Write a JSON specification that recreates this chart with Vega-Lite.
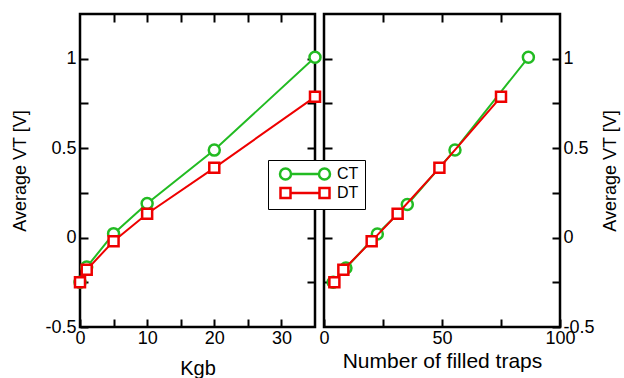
{
  "$schema": "https://vega.github.io/schema/vega-lite/v6.json",
  "autosize": {"type": "pad"},
  "padding": {"left": 10, "top": 11, "right": 2, "bottom": 0},
  "background": "white",
  "config": {
    "font": "Liberation Sans",
    "view": {"stroke": "black", "strokeWidth": 2.5},
    "axis": {
      "domain": false, "grid": false, "labelFlush": false,
      "tickColor": "black", "tickWidth": 2, "tickSize": -8,
      "labelFontSize": 18, "labelColor": "black", "labelPadding": 12,
      "titleFontSize": 20, "titleFontWeight": "normal", "titleColor": "black"
    }
  },
  "datasets": {
    "kgb": [
      {"x": 0, "vt": -0.25, "series": "CT"},
      {"x": 1, "vt": -0.165, "series": "CT"},
      {"x": 5, "vt": 0.022, "series": "CT"},
      {"x": 10, "vt": 0.19, "series": "CT"},
      {"x": 20, "vt": 0.489, "series": "CT"},
      {"x": 35, "vt": 1.008, "series": "CT"},
      {"x": 0, "vt": -0.25, "series": "DT"},
      {"x": 1, "vt": -0.18, "series": "DT"},
      {"x": 5, "vt": -0.02, "series": "DT"},
      {"x": 10, "vt": 0.133, "series": "DT"},
      {"x": 20, "vt": 0.39, "series": "DT"},
      {"x": 35, "vt": 0.787, "series": "DT"}
    ],
    "traps": [
      {"x": 3.9, "vt": -0.25, "series": "CT"},
      {"x": 9.3, "vt": -0.17, "series": "CT"},
      {"x": 22.6, "vt": 0.02, "series": "CT"},
      {"x": 35.3, "vt": 0.185, "series": "CT"},
      {"x": 55.5, "vt": 0.49, "series": "CT"},
      {"x": 86.6, "vt": 1.008, "series": "CT"},
      {"x": 4.4, "vt": -0.25, "series": "DT"},
      {"x": 8.2, "vt": -0.18, "series": "DT"},
      {"x": 20.2, "vt": -0.02, "series": "DT"},
      {"x": 31.2, "vt": 0.133, "series": "DT"},
      {"x": 48.9, "vt": 0.39, "series": "DT"},
      {"x": 75, "vt": 0.787, "series": "DT"}
    ]
  },
  "hconcat": [
    {
      "width": 235, "height": 313,
      "data": {"name": "kgb"},
      "layer": [
        {
          "transform": [{"filter": "datum.series == 'CT'"}],
          "mark": {"type": "line", "color": "#22bb22", "strokeWidth": 2},
          "encoding": {
            "x": {"field": "x", "type": "quantitative", "scale": {"domain": [0, 35], "nice": false, "zero": false},
              "axis": {"orient": "bottom", "values": [0, 5, 10, 15, 20, 25, 30], "labelPadding": 10, "labelExpr": "datum.value % 10 == 0 ? datum.label : ''", "title": "Kgb", "titlePadding": 11}},
            "y": {"field": "vt", "type": "quantitative", "scale": {"domain": [-0.5, 1.25], "nice": false, "zero": false},
              "axis": {"orient": "left", "values": [-0.5, -0.25, 0, 0.25, 0.5, 0.75, 1], "labelExpr": "datum.value % 0.5 == 0 ? (datum.value < 0 ? '-' : '') + format(abs(datum.value), '~g') : ''", "title": "Average VT [V]", "titleFontSize": 18, "titlePadding": 15}}
          }
        },
        {
          "transform": [{"filter": "datum.series == 'CT'"}],
          "mark": {"type": "point", "shape": "circle", "filled": true, "fill": "white", "stroke": "#22bb22", "strokeWidth": 2.5, "size": 121, "opacity": 1},
          "encoding": {
            "x": {"field": "x", "type": "quantitative", "scale": {"domain": [0, 35], "nice": false, "zero": false},
              "axis": {"orient": "top", "values": [5, 10, 15, 20, 25, 30], "labels": false, "title": null}},
            "y": {"field": "vt", "type": "quantitative", "scale": {"domain": [-0.5, 1.25], "nice": false, "zero": false},
              "axis": {"orient": "right", "values": [-0.25, 0, 0.25, 0.5, 0.75, 1], "labels": false, "title": null}}
          }
        },
        {
          "transform": [{"filter": "datum.series == 'DT'"}],
          "mark": {"type": "line", "color": "#ee0000", "strokeWidth": 2},
          "encoding": {
            "x": {"field": "x", "type": "quantitative", "scale": {"domain": [0, 35], "nice": false, "zero": false}, "axis": null},
            "y": {"field": "vt", "type": "quantitative", "scale": {"domain": [-0.5, 1.25], "nice": false, "zero": false}, "axis": null}
          }
        },
        {
          "transform": [{"filter": "datum.series == 'DT'"}],
          "mark": {"type": "point", "shape": "square", "filled": true, "fill": "white", "stroke": "#ee0000", "strokeWidth": 2.5, "size": 100, "opacity": 1},
          "encoding": {
            "x": {"field": "x", "type": "quantitative", "scale": {"domain": [0, 35], "nice": false, "zero": false}, "axis": null},
            "y": {"field": "vt", "type": "quantitative", "scale": {"domain": [-0.5, 1.25], "nice": false, "zero": false}, "axis": null}
          }
        }
      ],
      "resolve": {"axis": {"x": "independent", "y": "independent"}}
    },
    {
      "width": 236, "height": 313,
      "data": {"name": "traps"},
      "layer": [
        {
          "transform": [{"filter": "datum.series == 'CT'"}],
          "mark": {"type": "line", "color": "#22bb22", "strokeWidth": 2},
          "encoding": {
            "x": {"field": "x", "type": "quantitative", "scale": {"domain": [0, 100], "nice": false, "zero": false},
              "axis": {"orient": "bottom", "values": [0, 25, 50, 75, 100], "labelPadding": 10, "labelExpr": "datum.value % 50 == 0 ? datum.label : ''", "title": "Number of filled traps", "titleFontSize": 21, "titlePadding": 3}},
            "y": {"field": "vt", "type": "quantitative", "scale": {"domain": [-0.5, 1.25], "nice": false, "zero": false},
              "axis": {"orient": "right", "values": [-0.5, -0.25, 0, 0.25, 0.5, 0.75, 1], "labelPadding": 11, "labelExpr": "datum.value % 0.5 == 0 ? (datum.value < 0 ? '-' : '') + format(abs(datum.value), '~g') : ''", "title": "Average VT [V]", "titleFontSize": 18, "titleAngle": 270, "titlePadding": 25}}
          }
        },
        {
          "transform": [{"filter": "datum.series == 'CT'"}],
          "mark": {"type": "point", "shape": "circle", "filled": true, "fill": "white", "stroke": "#22bb22", "strokeWidth": 2.5, "size": 121, "opacity": 1},
          "encoding": {
            "x": {"field": "x", "type": "quantitative", "scale": {"domain": [0, 100], "nice": false, "zero": false},
              "axis": {"orient": "top", "values": [25, 50, 75], "labels": false, "title": null}},
            "y": {"field": "vt", "type": "quantitative", "scale": {"domain": [-0.5, 1.25], "nice": false, "zero": false},
              "axis": {"orient": "left", "values": [-0.25, 0, 0.25, 0.5, 0.75, 1], "labels": false, "title": null}}
          }
        },
        {
          "transform": [{"filter": "datum.series == 'DT'"}],
          "mark": {"type": "line", "color": "#ee0000", "strokeWidth": 2},
          "encoding": {
            "x": {"field": "x", "type": "quantitative", "scale": {"domain": [0, 100], "nice": false, "zero": false}, "axis": null},
            "y": {"field": "vt", "type": "quantitative", "scale": {"domain": [-0.5, 1.25], "nice": false, "zero": false}, "axis": null}
          }
        },
        {
          "transform": [{"filter": "datum.series == 'DT'"}],
          "mark": {"type": "point", "shape": "square", "filled": true, "fill": "white", "stroke": "#ee0000", "strokeWidth": 2.5, "size": 100, "opacity": 1},
          "encoding": {
            "x": {"field": "x", "type": "quantitative", "scale": {"domain": [0, 100], "nice": false, "zero": false}, "axis": null},
            "y": {"field": "vt", "type": "quantitative", "scale": {"domain": [-0.5, 1.25], "nice": false, "zero": false}, "axis": null}
          }
        },
        {
          "transform": [{"filter": "datum.x < -1000"}],
          "mark": {"type": "point", "filled": false, "size": 100, "strokeWidth": 2.5, "opacity": 1},
          "encoding": {
            "color": {"field": "series", "type": "nominal", "scale": {"domain": ["CT", "DT"], "range": ["#22bb22", "#ee0000"]},
              "legend": {"orient": "none", "legendX": 188, "legendY": 146, "title": null, "strokeColor": "black", "fillColor": "white", "padding": 6, "symbolOffset": 23, "labelOffset": 24, "labelFontSize": 16, "labelColor": "black", "rowPadding": -2, "symbolStrokeWidth": 2.5}},
            "shape": {"field": "series", "type": "nominal", "scale": {"domain": ["CT", "DT"], "range": ["M-5,0A1.1,1.1,0,1,0,-2.8,0A1.1,1.1,0,1,0,-5,0ZM-2.8,0L2.8,0M2.8,0A1.1,1.1,0,1,0,5,0A1.1,1.1,0,1,0,2.8,0Z", "M-4.9,-1L-2.9,-1L-2.9,1L-4.9,1ZM-2.9,0L2.9,0M2.9,-1L4.9,-1L4.9,1L2.9,1Z"]}}
          }
        }
      ],
      "resolve": {"axis": {"x": "independent", "y": "independent"}}
    }
  ],
  "spacing": 9,
  "bounds": "flush"
}
